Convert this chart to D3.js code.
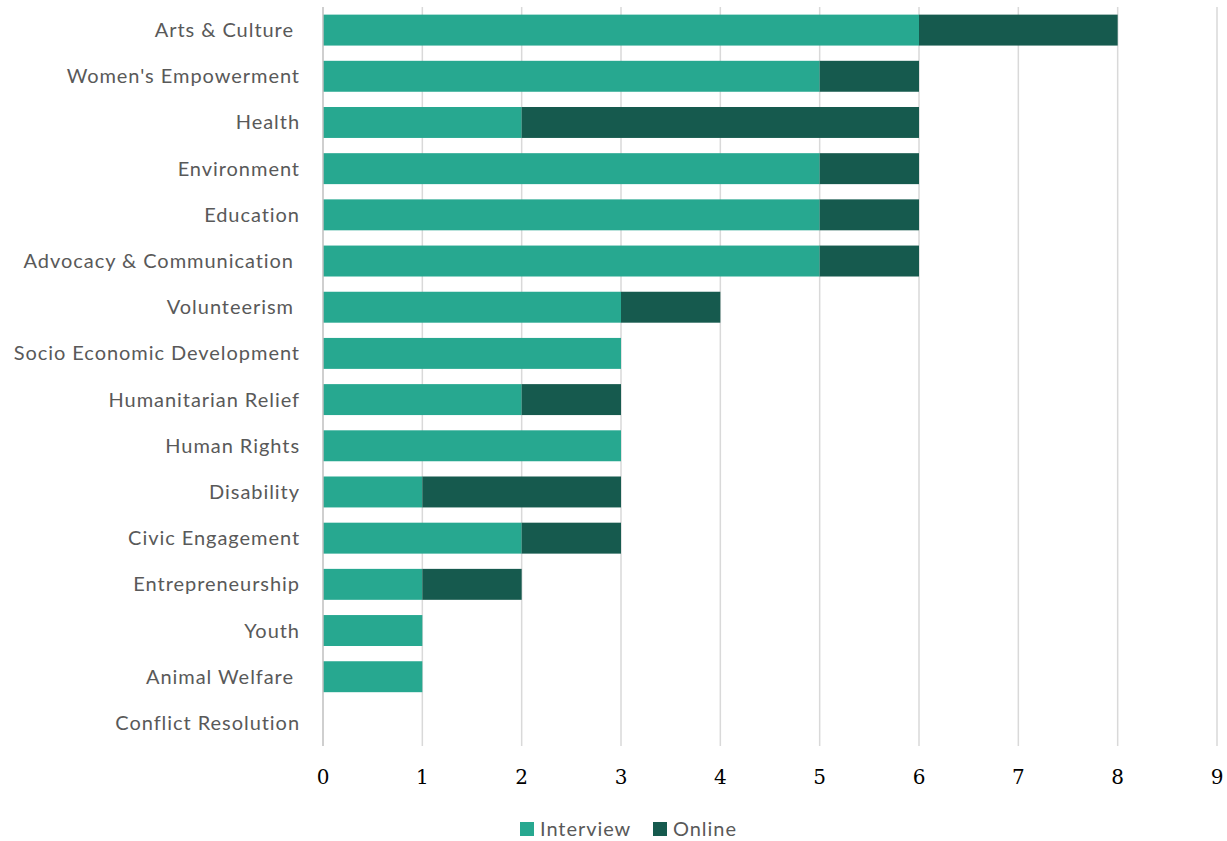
<!DOCTYPE html>
<html>
<head>
<meta charset="utf-8">
<script src="https://cdn.jsdelivr.net/npm/d3@7"></script>
<style>
  body { margin: 0; background: #fff; }
  text { white-space: pre; }
</style>
</head>
<body>
<div id="chart"></div>
<script>
const categories = ["Arts & Culture ", "Women's Empowerment", "Health", "Environment", "Education",
  "Advocacy & Communication ", "Volunteerism ", "Socio Economic Development", "Humanitarian Relief",
  "Human Rights", "Disability", "Civic Engagement", "Entrepreneurship", "Youth", "Animal Welfare ",
  "Conflict Resolution"];
const interview = [6, 5, 2, 5, 5, 5, 3, 3, 2, 3, 1, 2, 1, 1, 1, 0];
const online = [2, 1, 4, 1, 1, 1, 1, 0, 1, 0, 2, 1, 1, 0, 0, 0];
const seriesNames = ["Interview", "Online"];
const xTicks = [0, 1, 2, 3, 4, 5, 6, 7, 8, 9];

const W = 1227, H = 841;
const colors = { Interview: "#27a890", Online: "#165a4e" };

const rows = categories.map((c, i) => ({ cat: c, Interview: interview[i], Online: online[i] }));
const stacked = d3.stack().keys(seriesNames)(rows);

const svg = d3.select("#chart").append("svg").attr("width", W).attr("height", H);

const x = d3.scaleLinear().domain([0, 9]).range([323, 1217]);
const y = d3.scaleBand().domain(categories).range([7, 746]).paddingInner(0.33).paddingOuter(0.165);

// gridlines
svg.append("g").selectAll("line").data(xTicks.slice(1)).enter().append("line")
  .attr("x1", d => x(d)).attr("x2", d => x(d))
  .attr("y1", 7).attr("y2", 746)
  .attr("stroke", "#d9d9d9").attr("stroke-width", 1.5);

// bars
svg.append("g").selectAll("g").data(stacked).enter().append("g")
  .attr("fill", d => colors[d.key])
  .selectAll("rect").data(d => d).enter().append("rect")
  .attr("x", d => x(d[0]))
  .attr("width", d => x(d[1]) - x(d[0]))
  .attr("y", d => y(d.data.cat))
  .attr("height", y.bandwidth());

// zero axis line
svg.append("line").attr("x1", x(0)).attr("x2", x(0)).attr("y1", 7).attr("y2", 746)
  .attr("stroke", "#bfbfbf").attr("stroke-width", 1.5);

// category labels
svg.append("g").selectAll("text").data(categories).enter().append("text")
  .attr("x", 300)
  .attr("y", d => y(d) + y.bandwidth() / 2)
  .attr("dy", "0.35em")
  .attr("text-anchor", "end")
  .attr("font-family", "Lato, 'Open Sans', sans-serif")
  .attr("font-size", 20)
  .attr("letter-spacing", 0.95)
  .attr("fill", "#595959")
  .text(d => d);

// x tick labels
svg.append("g").selectAll("text").data(xTicks).enter().append("text")
  .attr("x", d => x(d))
  .attr("y", 777)
  .attr("dy", "0.35em")
  .attr("text-anchor", "middle")
  .attr("font-family", "'DejaVu Serif', 'Liberation Serif', serif")
  .attr("font-size", 20)
  .attr("fill", "#000")
  .text(d => d);

// legend
const legendX = [520, 653];
const lg = svg.append("g").selectAll("g").data(seriesNames).enter().append("g")
  .attr("transform", (d, i) => `translate(${legendX[i]},822)`);
lg.append("rect").attr("width", 14).attr("height", 14).attr("fill", d => colors[d]);
lg.append("text").attr("x", 20).attr("y", 7).attr("dy", "0.35em")
  .attr("font-family", "Lato, 'Open Sans', sans-serif")
  .attr("font-size", 20).attr("letter-spacing", 0.95).attr("fill", "#595959")
  .text(d => d);
</script>
</body>
</html>
